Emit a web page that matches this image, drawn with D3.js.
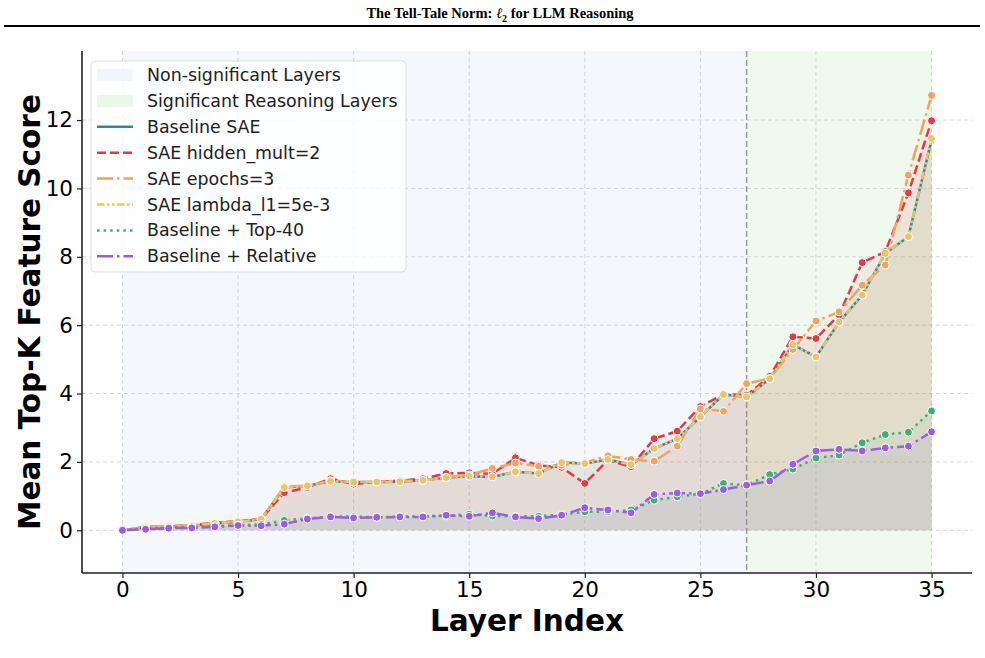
<!DOCTYPE html>
<meta charset="utf-8">
<style>
  body { margin: 0; background: #fff; }
  text { font-family: "DejaVu Sans", sans-serif; }
</style>
<svg id="chart" width="985" height="658"></svg>

<script src="https://d3js.org/d3.v7.min.js"></script>
<script>

// data
var layers = d3.range(0, 36)
var xTicks = [0, 5, 10, 15, 20, 25, 30, 35]
var yTicks = [0, 2, 4, 6, 8, 10, 12]

var baselineSAE = [0, 0.08, 0.1, 0.13, 0.2, 0.25, 0.32, 1.25, 1.3, 1.43, 1.41, 1.41, 1.42, 1.46, 1.54, 1.58, 1.56, 1.71, 1.66, 1.98,
  1.95, 2.07, 1.92, 2.39, 2.68, 3.32, 3.97, 3.9, 4.43, 5.43, 5.07, 6.09, 6.88, 8.1, 8.59, 11.42]
var hiddenMult = [0, 0.1, 0.12, 0.15, 0.22, 0.27, 0.33, 1.1, 1.25, 1.51, 1.35, 1.42, 1.45, 1.51, 1.66, 1.68, 1.65, 2.12, 1.9, 1.84,
  1.37, 2.05, 1.86, 2.68, 2.9, 3.62, 3.98, 3.95, 4.5, 5.66, 5.61, 6.3, 7.83, 8.15, 9.87, 11.98]
var epochs3 = [0, 0.1, 0.13, 0.15, 0.22, 0.27, 0.33, 1.28, 1.3, 1.45, 1.4, 1.42, 1.45, 1.45, 1.55, 1.62, 1.81, 1.97, 1.87, 1.9,
  1.98, 2.18, 2.07, 2.02, 2.46, 3.55, 3.48, 4.29, 4.44, 5.29, 6.12, 6.39, 7.17, 7.76, 10.39, 12.72]
var lambdaL1 = [0, 0.08, 0.1, 0.13, 0.2, 0.25, 0.32, 1.25, 1.3, 1.43, 1.41, 1.41, 1.42, 1.46, 1.54, 1.58, 1.56, 1.71, 1.66, 1.98,
  1.95, 2.07, 1.92, 2.39, 2.68, 3.32, 3.97, 3.9, 4.43, 5.43, 5.07, 6.09, 6.88, 8.1, 8.59, 11.46]
var top40 = [0, 0.05, 0.08, 0.1, 0.12, 0.15, 0.17, 0.29, 0.35, 0.4, 0.4, 0.38, 0.4, 0.41, 0.42, 0.47, 0.42, 0.41, 0.41, 0.46,
  0.54, 0.54, 0.59, 0.88, 0.98, 1.07, 1.37, 1.32, 1.63, 1.79, 2.11, 2.2, 2.56, 2.8, 2.87, 3.49]
var relative = [0, 0.03, 0.06, 0.07, 0.1, 0.14, 0.13, 0.18, 0.33, 0.39, 0.36, 0.38, 0.39, 0.39, 0.44, 0.41, 0.51, 0.39, 0.34, 0.44,
  0.66, 0.59, 0.51, 1.05, 1.09, 1.07, 1.19, 1.32, 1.44, 1.93, 2.32, 2.37, 2.32, 2.41, 2.46, 2.88]

var sigStart = 27
var lastLayer = 35

var series = [
  { name: "Baseline SAE", values: baselineSAE, color: "#2E86AB", dash: null },
  { name: "SAE hidden_mult=2", values: hiddenMult, color: "#E63946", dash: "9,4" },
  { name: "SAE epochs=3", values: epochs3, color: "#F4A261", dash: "16,4,2.5,4" },
  { name: "SAE lambda_l1=5e-3", values: lambdaL1, color: "#E9C46A", dash: "7.5,2.5,2.5,2.5,2.5,2.5" },
  { name: "Baseline + Top-40", values: top40, color: "#3BB273", dash: "2.5,4.1" },
  { name: "Baseline + Relative", values: relative, color: "#9B5DE5", dash: "16,4,2.5,4" }
]

var svg = d3.select("#chart")

// page header
svg.append("text")
    .attr("x", 500)
    .attr("y", 18)
    .attr("text-anchor", "middle")
    .style("font-family", "'Liberation Serif', serif")
    .style("font-weight", "bold")
    .style("font-size", "14.5px")
    .html('The Tell-Tale Norm: <tspan font-style="italic" font-weight="normal">ℓ</tspan><tspan font-size="10px" dy="4">2</tspan><tspan dy="-4"> for LLM Reasoning</tspan>')
svg.append("line")
    .attr("x1", 4).attr("x2", 980)
    .attr("y1", 26).attr("y2", 26)
    .attr("stroke", "#000")
    .attr("stroke-width", 2)

// scales
var x = d3.scaleLinear().domain([-1.75, 36.75]).range([82, 972])
var y = d3.scaleLinear().domain([-1.25, 14.02]).range([573, 51])

var plot = svg.append("g")

// shaded regions
plot.append("rect")
    .attr("x", x(0)).attr("y", y(14.02))
    .attr("width", x(sigStart) - x(0))
    .attr("height", y(-1.25) - y(14.02))
    .attr("fill", "#F4F8FC")
plot.append("rect")
    .attr("x", x(sigStart)).attr("y", y(14.02))
    .attr("width", x(lastLayer) - x(sigStart))
    .attr("height", y(-1.25) - y(14.02))
    .attr("fill", "#EFF9ED")

// grid
plot.selectAll(".gx").data(xTicks).enter().append("line")
    .attr("x1", x).attr("x2", x)
    .attr("y1", 51).attr("y2", 573)
    .attr("stroke", "#ccc").attr("stroke-width", 0.8)
    .attr("stroke-dasharray", "4,3")
plot.selectAll(".gy").data(yTicks).enter().append("line")
    .attr("x1", 82).attr("x2", 972)
    .attr("y1", y).attr("y2", y)
    .attr("stroke", "#ccc").attr("stroke-width", 0.8)
    .attr("stroke-dasharray", "4,3")

// boundary of the reasoning layers
plot.append("line")
    .attr("x1", x(sigStart)).attr("x2", x(sigStart))
    .attr("y1", 51).attr("y2", 573)
    .attr("stroke", "#999").attr("stroke-width", 1.5)
    .attr("stroke-dasharray", "6,3")

// filled areas under each line
var area = d3.area()
    .x(function(d, i) { return x(layers[i]) })
    .y0(y(0))
    .y1(function(d) { return y(d) })

series.forEach(function(s) {
  plot.append("path")
      .attr("d", area(s.values))
      .attr("fill", s.color)
      .attr("fill-opacity", 0.07)
})

var line = d3.line()
    .x(function(d, i) { return x(layers[i]) })
    .y(function(d) { return y(d) })

series.forEach(function(s) {
  plot.append("path")
      .attr("d", line(s.values))
      .attr("fill", "none")
      .attr("stroke", s.color)
      .attr("stroke-width", 2.5)
      .attr("stroke-dasharray", s.dash)
  plot.selectAll(null).data(s.values).enter().append("circle")
      .attr("cx", function(d, i) { return x(layers[i]) })
      .attr("cy", function(d) { return y(d) })
      .attr("r", 4)
      .attr("fill", s.color)
      .attr("stroke", "#fff")
      .attr("stroke-width", 1)
})

// axes
var xAxis = svg.append("g")
    .attr("transform", "translate(0,573)")
    .call(d3.axisBottom(x).tickValues(xTicks).tickSize(5).tickPadding(4))
var yAxis = svg.append("g")
    .attr("transform", "translate(82,0)")
    .call(d3.axisLeft(y).tickValues(yTicks).tickSize(5).tickPadding(4))

;[xAxis, yAxis].forEach(function(a) {
  a.select(".domain").attr("stroke", "#222").attr("stroke-width", 1.6)
  a.selectAll(".tick line").attr("stroke", "#222").attr("stroke-width", 1.2)
  a.selectAll(".tick text")
      .style("font-family", "'DejaVu Sans', sans-serif")
      .style("font-size", "21.5px")
      .attr("fill", "#000")
})
xAxis.select(".domain").attr("d", "M82,0H972")
yAxis.select(".domain").attr("d", "M0,51V573")

svg.append("text")
    .attr("x", x(17.5))
    .attr("y", 631)
    .attr("text-anchor", "middle")
    .style("font-weight", "bold")
    .style("font-size", "29.5px")
    .text("Layer Index")
svg.append("text")
    .attr("transform", "translate(40,312) rotate(-90)")
    .attr("text-anchor", "middle")
    .style("font-weight", "bold")
    .style("font-size", "29.5px")
    .text("Mean Top-K Feature Score")

// legend
var legend = svg.append("g").attr("transform", "translate(91,61)")
legend.append("rect")
    .attr("width", 315).attr("height", 211)
    .attr("rx", 4)
    .attr("fill", "#fff").attr("fill-opacity", 0.8)
    .attr("stroke", "#ddd")

var legendItems = [
  { name: "Non-significant Layers", patch: "#F1F6FC" },
  { name: "Significant Reasoning Layers", patch: "#EAF8E8" }
].concat(series)

legendItems.forEach(function(item, i) {
  var g = legend.append("g").attr("transform", "translate(6," + (14 + i * 25.9) + ")")
  if (item.patch) {
    g.append("rect")
        .attr("x", 0).attr("y", -6)
        .attr("width", 36).attr("height", 12)
        .attr("fill", item.patch)
  } else {
    g.append("line")
        .attr("x1", 0).attr("x2", 36)
        .attr("stroke", item.color)
        .attr("stroke-width", 2.5)
        .attr("stroke-dasharray", item.dash)
  }
  g.append("text")
      .attr("x", 50)
      .attr("y", 6)
      .style("font-size", "17.4px")
      .attr("fill", "#222")
      .text(item.name)
})

</script>
